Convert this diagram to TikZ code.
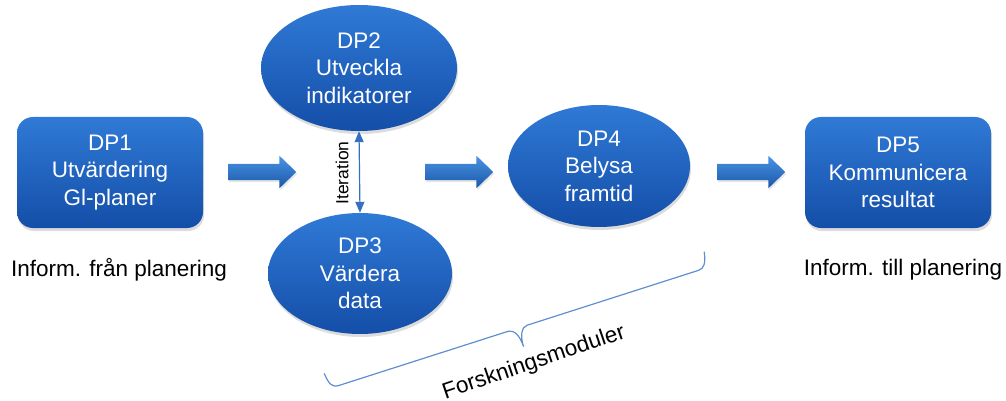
\documentclass[tikz,border=0pt]{standalone}
\usepackage{fontspec}
\setmainfont{Liberation Sans}
\usetikzlibrary{shapes.geometric,shapes.arrows,shadows,decorations.pathreplacing,arrows.meta}
\definecolor{bluetop}{HTML}{2F7AD6}
\definecolor{bluebot}{HTML}{144EA8}
\definecolor{arrtop}{HTML}{4A94E4}
\definecolor{arrbot}{HTML}{1A56A8}
\definecolor{linkblue}{HTML}{3570C0}
\definecolor{bracecol}{HTML}{5E8FD0}
\begin{document}
\begin{tikzpicture}[x=1pt,y=1pt,
  dptext/.style={text=white, align=center, font=\fontsize{22.5}{27.5}\selectfont},
  dpshadow/.style={drop shadow={opacity=0.28, shadow xshift=1pt, shadow yshift=-3pt}},
  dpbox/.style={dptext, dpshadow, rectangle, rounded corners=16pt, inner sep=0pt,
    minimum width=186pt, minimum height=111pt, top color=bluetop, bottom color=bluebot},
  dpell/.style={dptext, dpshadow, ellipse, inner sep=0pt, top color=bluetop, bottom color=bluebot},
  blockarrow/.style={single arrow, minimum height=68pt, minimum width=32pt,
    single arrow head extend=8pt, single arrow tip angle=88, inner xsep=0pt, inner ysep=8pt,
    top color=arrtop, bottom color=arrbot,
    drop shadow={opacity=0.2, shadow xshift=1pt, shadow yshift=-2pt}},
  plain/.style={text=black, font=\fontsize{22.5}{27}\selectfont, inner sep=0pt}
]
\useasboundingbox (0,0) rectangle (1006,-401);

\node[dpbox] (dp1) at (110,-172.5) {DP1\\Utvärdering\\Gl-planer};
\node[dpell, minimum width=196pt, minimum height=126pt] (dp2) at (359,-68) {DP2\\Utveckla\\indikatorer};
\node[dpell, minimum width=184pt, minimum height=121pt] (dp3) at (360,-273.5) {DP3\\Värdera\\data};
\node[dpell, minimum width=182pt, minimum height=122pt] (dp4) at (599,-166) {DP4\\Belysa\\framtid};
\node[dpbox] (dp5) at (898,-172.5) {DP5\\Kommunicera\\resultat};

\node[blockarrow] (a1) at (258,-172) {};
\node[blockarrow] (a2) at (455,-172) {};
\node[blockarrow] (a3) at (747,-172) {};

\draw[linkblue, line width=1.2pt, {Triangle[length=11pt,width=9pt]}-{Triangle[length=11pt,width=9pt]}]
  (dp2.south) -- (dp3.north);
\node[text=black, font=\fontsize{17.5}{20}\selectfont, rotate=90, inner sep=0pt] (iter) at (342,-173) {Iteration};

\node[plain] (infrom) at (119,-270) {Inform. från planering};
\node[plain] (infto) at (903,-270) {Inform. till planering};

\begin{scope}[shift={(331,-388)}, rotate=17.75]
  \draw[bracecol, line width=1.2pt, line join=round]
    (-2,16) .. controls (-1,5) and (1,0) .. (8,0) -- (186,0)
    .. controls (192,0) and (196,-8) .. (196,-19)
    .. controls (196,-8) and (200,0) .. (206,0) -- (386,0)
    .. controls (392,0) and (395,5) .. (397,16);
\end{scope}
\node[plain, rotate=18.8] (forsk) at (534,-363) {Forskningsmoduler};
\end{tikzpicture}
\end{document}
